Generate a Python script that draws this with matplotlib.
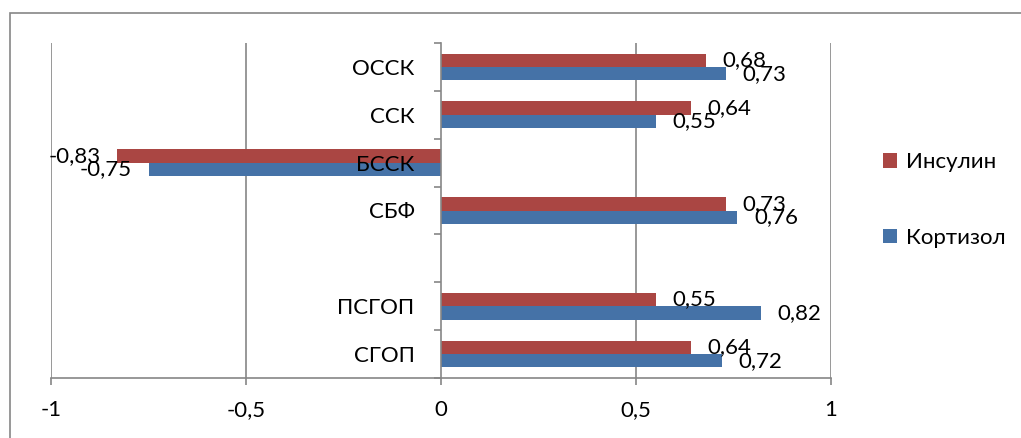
import matplotlib
matplotlib.use("Agg")
import matplotlib.pyplot as plt
from matplotlib.patches import Rectangle, Patch
import numpy as np

plt.rcParams['font.family'] = ['Lato', 'DejaVu Sans']

categories = ["СГОП", "ПСГОП", "", "СБФ", "БССК", "ССК", "ОССК"]
insulin = [0.64, 0.55, None, 0.73, -0.83, 0.64, 0.68]
cortisol = [0.72, 0.82, None, 0.76, -0.75, 0.55, 0.73]
series_names = ["Инсулин", "Кортизол"]
xticks = [-1, -0.5, 0, 0.5, 1]
xtick_labels = ["-1", "-0,5", "0", "0,5", "1"]

RED = "#AA4643"
BLUE = "#4572A7"
GRID = "#868686"
FS = 16

W, H = 1021, 438
fig = plt.figure(figsize=(W / 100, H / 100), dpi=100)
fig.patch.set_facecolor("white")

# outer chart frame (only top and left edges visible in reference)
fig.patches.append(Rectangle((10 / W, -0.2), 1.2, 1 - 13 / H + 0.2,
                             transform=fig.transFigure, fill=False,
                             edgecolor=GRID, linewidth=1.2))

ax = fig.add_axes([51 / W, (H - 378) / H, (831 - 51) / W, (378 - 43) / H])
ax.set_axisbelow(False)

y = np.arange(len(categories))
bh = 0.28
for i, (vi, vc) in enumerate(zip(insulin, cortisol)):
    if vi is None:
        continue
    ax.barh(y[i] + bh / 2, vi, height=bh, color=RED, zorder=2)
    ax.barh(y[i] - bh / 2, vc, height=bh, color=BLUE, zorder=2)
    for v, yy in ((vi, y[i] + bh / 2), (vc, y[i] - bh / 2)):
        lab = f"{v:.2f}".replace(".", ",")
        off = 12 if v >= 0 else -12
        ax.annotate(lab, (v, yy), xytext=(off, 0), textcoords="offset points",
                    ha="left" if v >= 0 else "right", va="center",
                    fontsize=FS, zorder=5)

ax.set_xlim(-1, 1)
ax.set_ylim(-0.5, len(categories) - 0.5)

for gx in [-1, -0.5, 0.5, 1]:
    ax.axvline(gx, color=GRID, linewidth=1.2, zorder=1)

ax.set_xticks(xticks)
ax.set_xticklabels(xtick_labels, fontsize=FS)
ax.tick_params(axis="x", length=5, width=1.2, color=GRID, pad=11)

ax.spines["top"].set_visible(False)
ax.spines["right"].set_visible(False)
ax.spines["bottom"].set_color(GRID)
ax.spines["bottom"].set_linewidth(1.2)
ax.spines["left"].set_position(("data", 0))
ax.spines["left"].set_color(GRID)
ax.spines["left"].set_linewidth(1.2)

ax.set_yticks(y)
ax.set_yticklabels(categories, fontsize=FS)
ax.set_yticks(np.arange(-0.5, len(categories), 1.0), minor=True)
ax.tick_params(axis="y", which="major", length=0, pad=19)
ax.tick_params(axis="y", which="minor", length=5, width=1.2, color=GRID)

handles = [Patch(facecolor=RED, label=series_names[0]),
           Patch(facecolor=BLUE, label=series_names[1])]
fig.legend(handles=handles, loc="center left",
           bbox_to_anchor=(863 / W, 1 - 200 / H), frameon=False,
           fontsize=FS, labelspacing=2.5, handlelength=0.62, handleheight=0.62,
           handletextpad=0.4)

fig.savefig("out.png", dpi=100, facecolor="white")
